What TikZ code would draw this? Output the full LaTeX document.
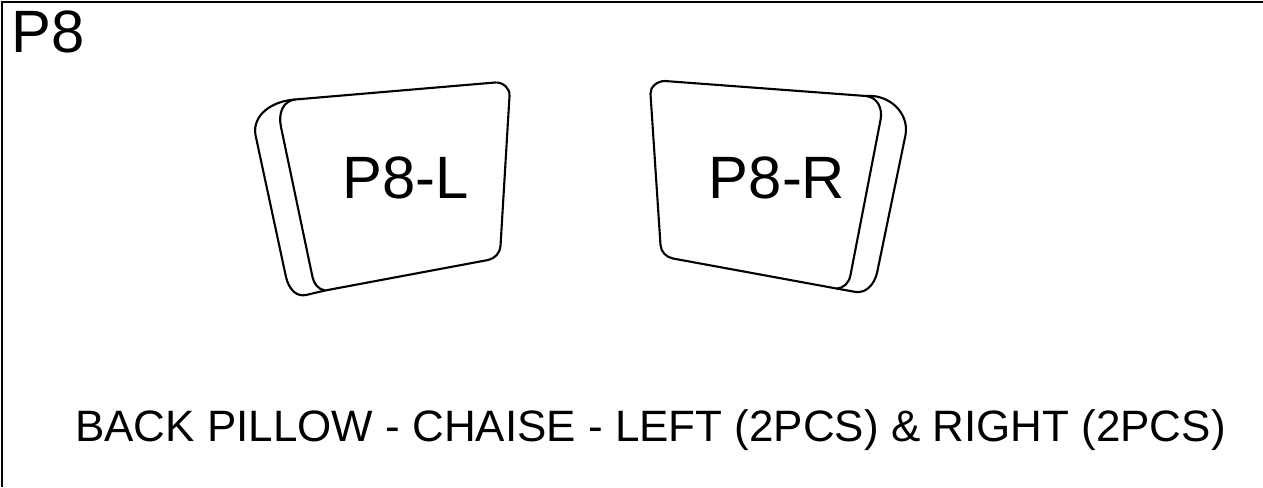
\documentclass[tikz,border=0pt]{standalone}
\usepackage{fontspec}
\setmainfont{Liberation Sans}
\tikzset{
	pillow/.style={line width=.6pt,line join=round},
	biglabel/.style={anchor=base,inner sep=0pt,font=\fontsize{17}{20}\selectfont},
}
\begin{document}
\begin{tikzpicture}[x=.01cm,y=-.01cm]
	\useasboundingbox (0,0) rectangle (1263,487);
	\draw[line width=.6pt] (2,487) -- (2,2) -- (1263,2);
	\node[biglabel,anchor=base west] (title) at (10.5,52) {P8};
	% left pillow
	\draw[pillow] (295,99.5) -- (495,82.5) .. controls (503,82) and (510,88) .. (509.5,96) -- (500.5,246) .. controls (500,253) and (495,258.5) .. (488,260) -- (325,290.5) .. controls (318,289) and (314,284) .. (312.5,277) -- (281,127) .. controls (278,113) and (283,101) .. (295,99.5);
	\draw[pillow] (295,99.5) .. controls (272,101) and (252,115) .. (255.5,135) -- (286,277) .. controls (289,290) and (297,297) .. (306,295) -- (325,290.5);
	\node[biglabel] (pl) at (406,198.5) {P8-L};
	% right pillow
	\draw[pillow] (665,81) -- (866,96) .. controls (877,97) and (883,108) .. (880.5,120) -- (850.5,275) .. controls (849,283) and (844,288) .. (836.5,288.5) -- (673,258.5) .. controls (666,257) and (661,252) .. (660.5,245) -- (650.5,94) .. controls (650,87) and (657,81) .. (665,81);
	\draw[pillow] (866,96) -- (873,96) .. controls (893,98) and (909,115) .. (905.5,135) -- (877,273) .. controls (874,285) and (866,293) .. (856,292) -- (836.5,288.5);
	\node[biglabel] (pr) at (777,198.5) {P8-R};
	\node[biglabel,font=\fontsize{12.5}{15}\selectfont] (caption) at (650.5,441) {BACK PILLOW - CHAISE - LEFT (2PCS) \& RIGHT (2PCS)};
\end{tikzpicture}
\end{document}
